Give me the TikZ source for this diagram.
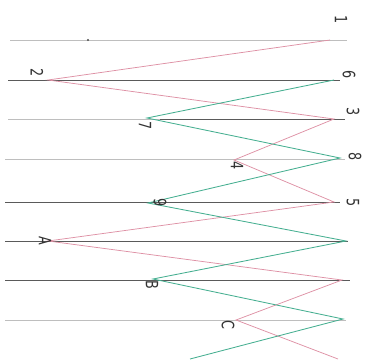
\documentclass[tikz,border=0pt]{standalone}
\usepackage{fontspec}
\newfontfamily\lblfont{DejaVu Sans}
\definecolor{raildark}{RGB}{90,90,90}
\definecolor{raillight}{RGB}{190,190,190}
\definecolor{pinkc}{RGB}{222,145,165}
\definecolor{greenc}{RGB}{70,175,145}
\begin{document}
\begin{tikzpicture}[x=1pt,y=-1pt,
  lbl/.style={rotate=-90, inner sep=0pt, text=black!80, font=\lblfont\fontsize{17}{17}\selectfont},
  raild/.style={draw=raildark, line width=0.9pt},
  raill/.style={draw=raillight, line width=0.9pt},
  pinkpath/.style={draw=pinkc, line width=0.75pt},
  greenpath/.style={draw=greenc, line width=0.85pt}]
\useasboundingbox (0,0) rectangle (371,359);
% rails: left and right ends
\coordinate (l1) at (10,40);   \coordinate (r1) at (347,40);
\coordinate (l2) at (8,80);    \coordinate (r2) at (340,80);
\coordinate (l3) at (8,119);   \coordinate (m3) at (160,119); \coordinate (r3) at (345,119);
\coordinate (l4) at (5,159);   \coordinate (r4) at (345,159);
\coordinate (l5) at (5,202);   \coordinate (r5) at (340,202);
\coordinate (l6) at (5,241);   \coordinate (r6) at (348,241);
\coordinate (l7) at (5,280);   \coordinate (r7) at (350,280);
\coordinate (l8) at (5,320);   \coordinate (r8) at (346,320);
\draw[raill] (l1) -- (r1);
\draw[raild] (l2) -- (r2);
\draw[raill] (l3) -- (m3);
\draw[raild] (m3) -- (r3);
\draw[raill] (l4) -- (r4);
\draw[raild] (l5) -- (r5);
\draw[raild] (l6) -- (r6);
\draw[raild] (l7) -- (r7);
\draw[raill] (l8) -- (r8);
\fill[black!70] (88,40) circle (1.2pt);
% vertices
\coordinate (p1) at (330,40);
\coordinate (p2) at (48,80);
\coordinate (p3) at (334,119);
\coordinate (p4) at (234,160);
\coordinate (p5) at (334,202);
\coordinate (pA) at (48,241);
\coordinate (p7r) at (342,280);
\coordinate (pC) at (236,320);
\coordinate (pend) at (338,359);
\coordinate (g6) at (334,80);
\coordinate (g7) at (147,118);
\coordinate (g8) at (340,158);
\coordinate (g9) at (148,203);
\coordinate (g6r) at (346,241);
\coordinate (gB) at (153,279);
\coordinate (g8r) at (343,319);
\coordinate (gend) at (190,359);
\draw[pinkpath] (p1) -- (p2) -- (p3) -- (p4) -- (p5) -- (pA) -- (p7r) -- (pC) -- (pend);
\draw[greenpath] (g6) -- (g7) -- (g8) -- (g9) -- (g6r) -- (gB) -- (g8r) -- (gend);
% labels
\node[lbl] (t1) at (341,20) {\scalebox{0.75}[1]{1}};
\node[lbl] (t2) at (37,73) {\scalebox{0.75}[1]{2}};
\node[lbl] (t6) at (349,75) {\scalebox{0.75}[1]{6}};
\node[lbl] (t3) at (353,112) {\scalebox{0.75}[1]{3}};
\node[lbl] (t7) at (145,126) {\scalebox{0.75}[1]{7}};
\node[lbl] (t8) at (355,157) {\scalebox{0.75}[1]{8}};
\node[lbl] (t4) at (237,166) {\scalebox{0.75}[1]{4}};
\node[lbl] (t9) at (160,203) {\scalebox{0.75}[1]{9}};
\node[lbl] (t5) at (353,203) {\scalebox{0.75}[1]{5}};
\node[lbl] (tA) at (45,241) {\scalebox{0.75}[1]{A}};
\node[lbl] (tB) at (152,285) {\scalebox{0.75}[1]{B}};
\node[lbl] (tC) at (228,325) {\scalebox{0.75}[1]{C}};
\end{tikzpicture}
\end{document}
